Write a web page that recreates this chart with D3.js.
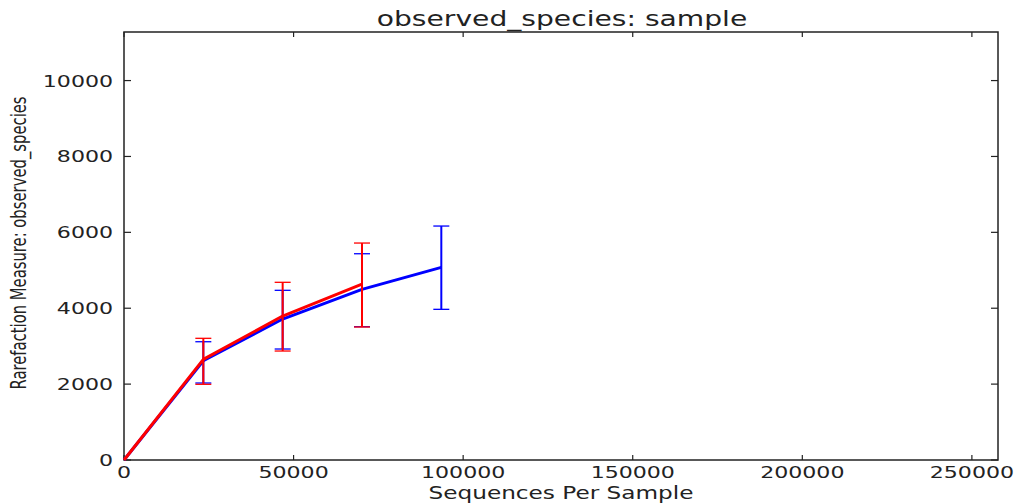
<!DOCTYPE html>
<html>
<head>
<meta charset="utf-8">
<script src="https://cdn.jsdelivr.net/npm/d3@7"></script>
<style>
  body { margin: 0; background: #fff; }
  text { font-family: "DejaVu Sans", sans-serif; fill: #222; }
</style>
</head>
<body>
<svg id="chart" width="1022" height="504"></svg>
<script>
// rarefaction depths and observed_species means / error ranges
var depths = [0, 23390, 46780, 70170, 93560];

var blueMean  = [0, 2617, 3715, 4498, 5078];
var blueLow   = [null, 2029, 2925, 3513, 3971];
var blueHigh  = [null, 3117, 4472, 5436, 6166];

var redMean   = [0, 2653, 3794, 4638];
var redLow    = [null, 1995, 2872, 3505];
var redHigh   = [null, 3207, 4683, 5718];

var xTicks = [0, 50000, 100000, 150000, 200000, 250000];
var yTicks = [0, 2000, 4000, 6000, 8000, 10000];

var xMax = 257700, yMax = 11280;
var SX = 1.38; // the picture is stretched sideways

var svg = d3.select("#chart"),
	width = +svg.attr("width"),
	height = +svg.attr("height");

var margin = {top: 32, right: 24, bottom: 44, left: 124};
var w = width - margin.left - margin.right,
	h = height - margin.top - margin.bottom;

var x = d3.scaleLinear().domain([0, xMax]).range([margin.left, margin.left + w]);
var y = d3.scaleLinear().domain([0, yMax]).range([margin.top + h, margin.top]);

function stretched(sel, tx, ty, extra) {
	return sel.attr("transform", "translate(" + tx + "," + ty + ") scale(" + SX + ",1)" + (extra || ""));
}

// frame
svg.append("rect")
	.attr("x", margin.left).attr("y", margin.top)
	.attr("width", w).attr("height", h)
	.attr("fill", "none").attr("stroke", "#222").attr("stroke-width", 1.5);

// inward ticks on all four sides
var xt = svg.append("g").attr("stroke", "#222").attr("stroke-width", 1.2);
xTicks.forEach(function(t) {
	xt.append("line").attr("x1", x(t)).attr("x2", x(t)).attr("y1", y(0)).attr("y2", y(0) - 5);
	xt.append("line").attr("x1", x(t)).attr("x2", x(t)).attr("y1", y(yMax)).attr("y2", y(yMax) + 5);
});
yTicks.forEach(function(t) {
	xt.append("line").attr("x1", x(0)).attr("x2", x(0) + 7).attr("y1", y(t)).attr("y2", y(t));
	xt.append("line").attr("x1", x(xMax)).attr("x2", x(xMax) - 7).attr("y1", y(t)).attr("y2", y(t));
});

// tick labels
xTicks.forEach(function(t) {
	stretched(svg.append("text"), x(t), y(0) + 18)
		.attr("text-anchor", "middle").attr("font-size", 16).text(t);
});
yTicks.forEach(function(t) {
	stretched(svg.append("text"), x(0) - 11, y(t) + 6)
		.attr("text-anchor", "end").attr("font-size", 16).text(t);
});

// titles
stretched(svg.append("text"), 562, 26)
	.attr("text-anchor", "middle").attr("font-size", 20.4).text("observed_species: sample");
stretched(svg.append("text"), 561, 499)
	.attr("text-anchor", "middle").attr("font-size", 16.8).text("Sequences Per Sample");
stretched(svg.append("text"), 26, 243, " rotate(-90)")
	.attr("text-anchor", "middle").attr("font-size", 14.8).text("Rarefaction Measure: observed_species");

var line = d3.line()
	.x(function(d) { return x(d[0]); })
	.y(function(d) { return y(d[1]); });

function drawSeries(color, means, lows, highs) {
	var g = svg.append("g");
	var pts = means.map(function(m, i) { return [depths[i], m, lows[i], highs[i]]; });
	g.append("path")
		.datum(pts)
		.attr("d", line)
		.attr("fill", "none").attr("stroke", color).attr("stroke-width", 3)
		.attr("stroke-linejoin", "round");
	var eb = pts.filter(function(d) { return d[2] != null; });
	g.selectAll(".bar").data(eb).enter().append("line")
		.attr("x1", function(d) { return x(d[0]); }).attr("x2", function(d) { return x(d[0]); })
		.attr("y1", function(d) { return y(d[2]); }).attr("y2", function(d) { return y(d[3]); })
		.attr("stroke", color).attr("stroke-width", 2);
	[2, 3].forEach(function(k) {
		g.selectAll(".cap" + k).data(eb).enter().append("line")
			.attr("x1", function(d) { return x(d[0]) - 8; }).attr("x2", function(d) { return x(d[0]) + 8; })
			.attr("y1", function(d) { return y(d[k]); }).attr("y2", function(d) { return y(d[k]); })
			.attr("stroke", color).attr("stroke-width", 1.3);
	});
}

drawSeries("#0000ff", blueMean, blueLow, blueHigh);
drawSeries("#ff0000", redMean, redLow, redHigh);
</script>
</body>
</html>
